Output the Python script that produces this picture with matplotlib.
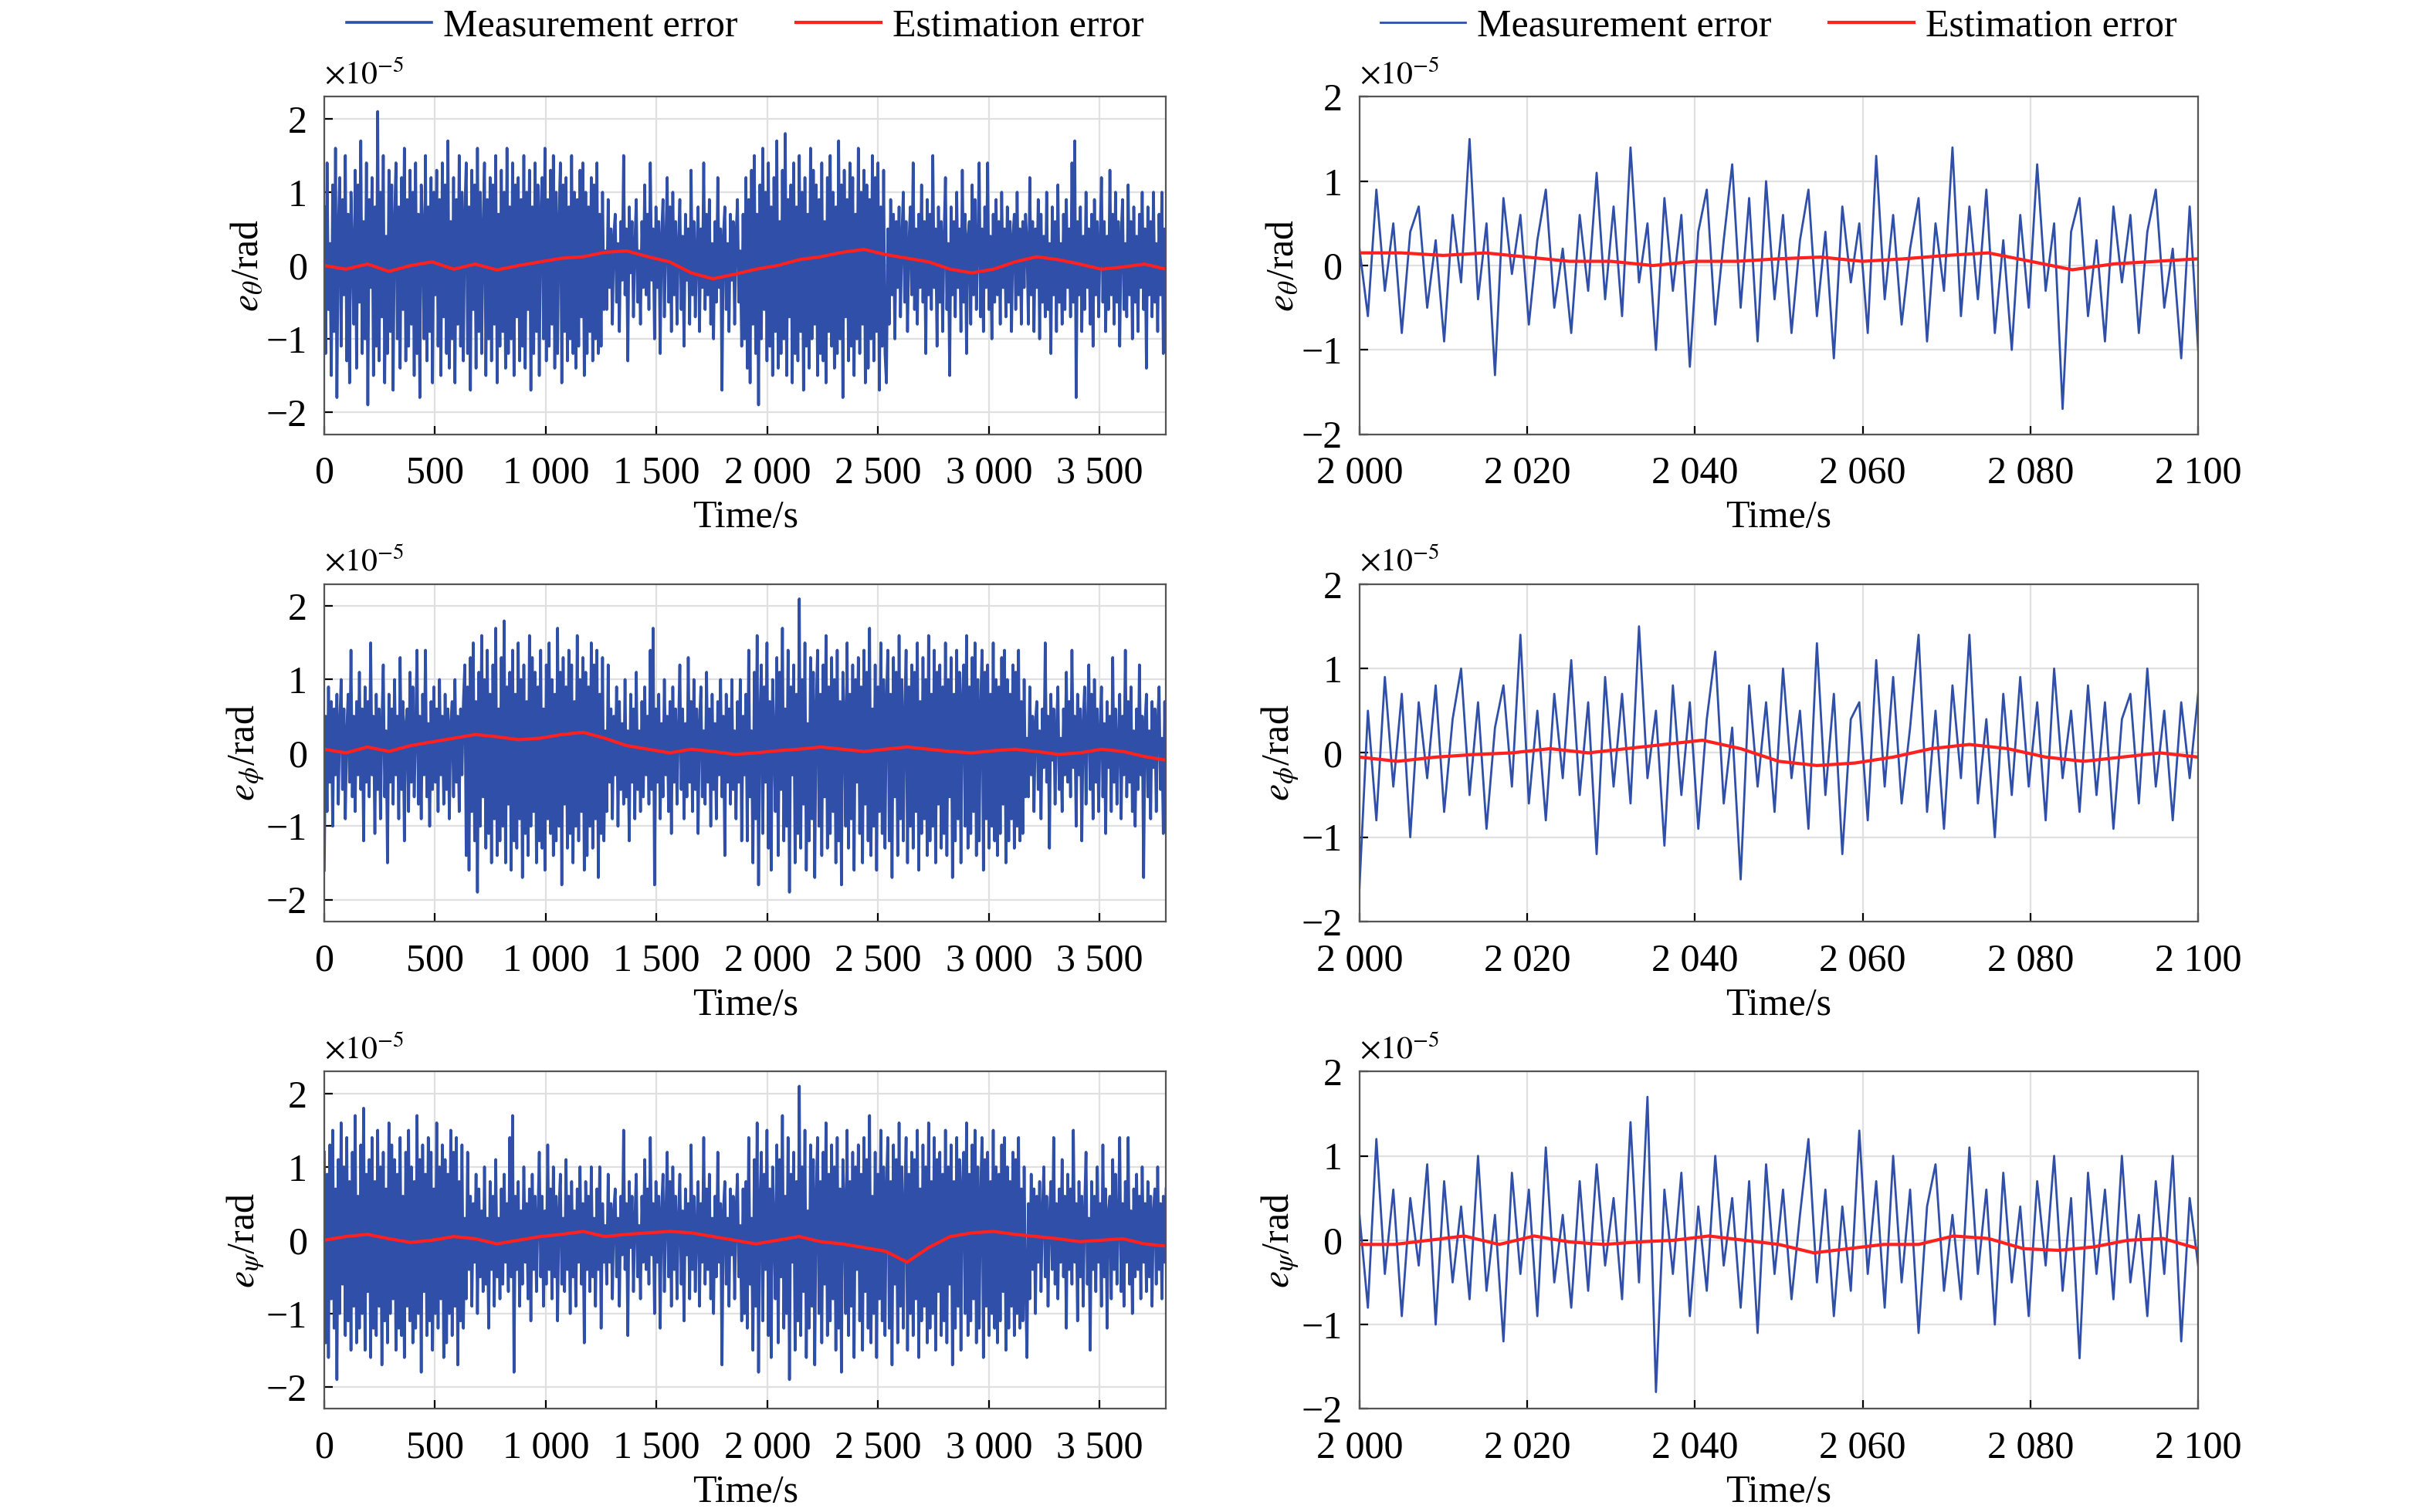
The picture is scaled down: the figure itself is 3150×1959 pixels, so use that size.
import matplotlib
matplotlib.use("Agg")
import matplotlib.pyplot as plt
import numpy as np

plt.rcParams['font.family'] = ['Liberation Serif', 'DejaVu Serif']
plt.rcParams['mathtext.fontset'] = 'stix'

# values in units of 1e-5 rad
seg_A = [0.8,-1.2,1.4,-0.6,0.3,-1.5,1.1,-0.9,1.6,-1.8,0.5,1.2,-1.1,0.9,-0.4,1.5,-1.3,0.7,-1.6,1.0,
0.2,-0.8,1.3,-1.4,1.1,-0.5,1.7,-1.2,0.6,-1.0,1.4,-1.9,0.9,-0.3,1.2,-1.5,0.8,-1.1,2.1,-1.3,
1.0,-0.7,1.5,-1.6,0.4,-1.2,1.3,-0.9,1.1,-1.7,0.6,1.4,-1.0,0.8,-1.4,1.2,-0.6,1.6,-1.3,0.9,
-1.1,1.3,-0.8,1.0,-1.5,1.4,-1.2,0.7,-1.8,1.1,0.5,-1.0,1.5,-1.3,0.8,-0.9,1.2,-1.6,1.0,-0.4,
1.3,-1.1,0.9,-1.5,1.4,-0.7,1.1,-1.2,1.7,-1.4,0.6,-1.0,1.2,-1.6,0.9,-0.8,1.5,-1.1,1.0,-1.3,
0.7,1.4,-1.2,0.8,-1.7,1.3,-0.6,1.1,-1.4,1.6,-0.9,1.0,-1.2,0.5,1.4,-1.5,0.9,-1.0,1.2,-1.3,
1.1,-0.8,1.5,-1.6,0.7,-1.1,1.3,-0.9,1.0,-1.4,1.6,-1.2,0.8,-1.0,1.4,-1.5,1.1,-0.7,1.2,-1.3,
0.9,-1.1,1.5,-1.4,1.0,-0.6,1.3,-1.7,0.8,-1.2,1.4,-0.9,1.1,-1.5,0.7,1.2,-1.0,1.6,-1.3,0.9,
-1.1,1.3,-0.8,1.5,-1.4,1.0,-1.2,0.6,1.4,-1.6,1.1,-0.9,1.2,-1.3,0.8,-1.0,1.5,-1.2,1.0,-1.4,
0.9,-1.1,1.3,-0.7,1.4,-1.5,1.0,-1.2,0.8,-0.9,1.2,-1.3,1.1,-1.0,1.4,-1.2,0.7,-1.1,1.0,-0.6]
seg_B = [1.2,-1.4,0.9,-1.6,1.3,-0.8,1.5,-1.2,0.7,-1.9,1.1,-1.0,1.6,-0.6,1.0,-1.3,1.4,-1.1,0.8,-1.5,
1.2,-0.9,1.7,-1.4,0.6,-1.2,1.3,-1.0,1.8,-1.5,0.9,-0.7,1.1,-1.6,1.4,-1.2,0.8,-1.3,1.5,-0.9,
1.0,-1.7,1.2,-1.1,0.7,-1.4,1.6,-1.0,1.3,-0.8,1.1,-1.5,0.9,-1.2,1.4,-1.3,0.6,-1.6,1.2,-0.9,
1.5,-1.1,1.0,-1.4,0.8,-1.2,1.7,-1.0,1.1,-1.8,1.3,-0.7,0.9,-1.3,1.4,-1.1,1.2,-1.5,0.7,-1.0,
1.6,-1.2,1.0,-0.8,1.3,-1.6,1.1,-1.4,0.9,-1.0,1.5,-1.3,1.2,-0.9,1.4,-1.7,0.8,-1.1,1.3,-1.2]

meas_R1 = [0.2,-0.6,0.9,-0.3,0.5,-0.8,0.4,0.7,-0.5,0.3,-0.9,0.6,-0.2,1.5,-0.4,0.5,-1.3,0.8,-0.1,0.6,
-0.7,0.3,0.9,-0.5,0.2,-0.8,0.6,-0.3,1.1,-0.4,0.7,-0.6,1.4,-0.2,0.5,-1.0,0.8,-0.3,0.6,-1.2,
0.4,0.9,-0.7,0.3,1.2,-0.5,0.8,-0.9,1.0,-0.4,0.6,-0.8,0.3,0.9,-0.6,0.4,-1.1,0.7,-0.2,0.5,
-0.8,1.3,-0.4,0.6,-0.7,0.2,0.8,-0.9,0.5,-0.3,1.4,-0.6,0.7,-0.4,0.9,-0.8,0.3,-1.0,0.6,-0.5,
1.2,-0.3,0.5,-1.7,0.4,0.8,-0.6,0.3,-0.9,0.7,-0.2,0.6,-0.8,0.4,0.9,-0.5,0.2,-1.1,0.7,-1.0]
est_R1 = [0.15,0.15,0.12,0.15,0.1,0.05,0.05,0.0,0.05,0.05,0.08,0.1,0.05,0.08,0.12,0.15,0.05,-0.05,0.02,0.05,0.08]
meas_R2 = [-1.6,0.5,-0.8,0.9,-0.4,0.7,-1.0,0.6,-0.3,0.8,-0.7,0.4,1.0,-0.5,0.6,-0.9,0.3,0.8,-0.4,1.4,
-0.6,0.5,-0.8,0.7,-0.3,1.1,-0.5,0.6,-1.2,0.9,-0.4,0.7,-0.6,1.5,-0.3,0.5,-1.1,0.8,-0.5,0.6,
-0.9,0.4,1.2,-0.6,0.3,-1.5,0.8,-0.4,0.6,-0.7,1.0,-0.3,0.5,-0.9,1.3,-0.5,0.7,-1.2,0.4,0.6,
-0.8,1.1,-0.4,0.9,-0.6,0.3,1.4,-0.7,0.5,-0.9,0.8,-0.3,1.4,-0.6,0.4,-1.0,0.7,-0.5,0.9,-0.4,
0.6,-0.8,1.0,-0.3,0.5,-0.7,0.8,-0.5,0.6,-0.9,0.4,0.7,-0.6,1.0,-0.4,0.5,-0.8,0.6,-0.3,0.7]
est_R2 = [-0.05,-0.1,-0.05,-0.02,0.0,0.05,0.0,0.05,0.1,0.15,0.05,-0.1,-0.15,-0.12,-0.05,0.05,0.1,0.05,-0.05,-0.1,-0.05,0.0,-0.05]
meas_R3 = [0.3,-0.8,1.2,-0.4,0.6,-0.9,0.5,-0.3,0.9,-1.0,0.7,-0.5,0.4,-0.7,1.0,-0.6,0.3,-1.2,0.8,-0.4,
0.6,-0.9,1.1,-0.5,0.3,-0.8,0.7,-0.6,0.9,-0.3,0.5,-0.7,1.4,-0.5,1.7,-1.8,0.6,-0.4,0.8,-0.9,
0.4,-0.6,1.0,-0.3,0.5,-0.8,0.7,-1.1,0.9,-0.4,0.6,-0.7,0.3,1.2,-0.5,0.6,-0.9,0.4,-0.6,1.3,
-0.4,0.7,-0.8,1.0,-0.5,0.6,-1.1,0.4,0.9,-0.6,0.3,-0.7,1.1,-0.4,0.6,-1.0,0.8,-0.5,0.4,-0.9,
0.7,-0.3,1.0,-0.6,0.5,-1.4,0.8,-0.4,0.6,-0.7,1.0,-0.5,0.3,-0.9,0.7,-0.4,1.0,-1.2,0.5,-0.3]
est_R3 = [-0.05,-0.05,0.0,0.05,-0.05,0.05,-0.02,-0.05,-0.02,0.0,0.05,0.0,-0.05,-0.15,-0.1,-0.05,-0.05,0.05,0.02,-0.1,-0.12,-0.08,0.0,0.02,-0.1]

meas_L1 = seg_A + meas_R1 + seg_B + meas_R2 + meas_R3
meas_L2 = meas_R2 + seg_B + meas_R3 + seg_A + meas_R1
meas_L3 = seg_B + meas_R3 + meas_R1 + seg_A + meas_R2
est_L1 = [0.0,-0.05,0.02,-0.08,0.0,0.05,-0.05,0.02,-0.06,0.0,0.05,0.1,0.12,0.18,0.2,0.12,0.05,-0.1,-0.18,-0.12,
-0.05,0.0,0.08,0.12,0.18,0.22,0.15,0.1,0.05,-0.05,-0.1,-0.05,0.05,0.12,0.08,0.02,-0.05,-0.02,0.02,-0.05]
est_L2 = [0.05,0.0,0.08,0.02,0.1,0.15,0.2,0.25,0.22,0.18,0.2,0.25,0.28,0.2,0.1,0.05,0.0,0.05,0.02,-0.02,
0.0,0.03,0.05,0.08,0.05,0.02,0.05,0.08,0.05,0.02,0.0,0.03,0.05,0.02,-0.02,0.0,0.05,0.02,-0.05,-0.1]
est_L3 = [0.0,0.05,0.08,0.02,-0.03,0.0,0.05,0.02,-0.05,0.0,0.05,0.08,0.12,0.05,0.08,0.1,0.12,0.1,0.05,0.0,
-0.05,0.0,0.05,-0.02,-0.05,-0.1,-0.15,-0.3,-0.1,0.05,0.1,0.12,0.08,0.05,0.02,-0.02,0.0,0.02,-0.05,-0.08]

ylabels = [r'$e_{\theta}$/rad', r'$e_{\phi}$/rad', r'$e_{\psi}$/rad']
left = [(meas_L1, est_L1), (meas_L2, est_L2), (meas_L3, est_L3)]
right = [(meas_R1, est_R1), (meas_R2, est_R2), (meas_R3, est_R3)]

BLUE = '#2f4fa8'; RED = '#ff2020'
def fmt(v, p):
    return f"{int(round(v)):,}".replace(",", " ")

fig = plt.figure(figsize=(15.75, 9.795), dpi=200)
W, H = 1560, 968
rows = [(62, 278), (374, 590), (686, 902)]
cols = [(208, 748), (872, 1410)]
for r, (t, b) in enumerate(rows):
    for c, (l, rr) in enumerate(cols):
        ax = fig.add_axes([l / W, 1 - b / H, (rr - l) / W, (b - t) / H])
        if c == 0:
            m, e = left[r]; x0, x1 = 0, 3800; lim = 2.3
            ax.set_xticks(range(0, 3501, 500))
        else:
            m, e = right[r]; x0, x1 = 2000, 2100; lim = 2.0
            ax.set_xticks(range(2000, 2101, 20))
        xm = np.linspace(x0, x1, len(m)); xe = np.linspace(x0, x1, len(e))
        ax.plot(xm, m, color=BLUE, lw=1.0 if c else 1.3, label='Measurement error')
        ax.plot(xe, e, color=RED, lw=1.5, label='Estimation error')
        ax.set_xlim(x0, x1); ax.set_ylim(-lim, lim)
        ax.set_yticks([-2, -1, 0, 1, 2])
        ax.xaxis.set_major_formatter(matplotlib.ticker.FuncFormatter(fmt))
        ax.grid(True, color='#e0e0e0', lw=0.8)
        ax.tick_params(labelsize=18, direction='in', length=4)
        ax.tick_params(axis='x', pad=10)
        ax.tick_params(axis='y', pad=8)
        ax.set_xlabel('Time/s', fontsize=18, labelpad=4)
        ax.set_ylabel(ylabels[r], fontsize=18, labelpad=0)
        ax.text(0.0, 1.02, r'$\times10^{-5}$', transform=ax.transAxes, fontsize=15, va='bottom')
        for s in ax.spines.values():
            s.set_color('#555555'); s.set_linewidth(0.8)
        if r == 0:
            ax.legend(loc='lower center', bbox_to_anchor=(0.5, 1.11), ncol=2, frameon=False,
                      fontsize=18, handlelength=2.2, handletextpad=0.3, columnspacing=1.5, borderaxespad=0)
fig.savefig('out.png', dpi=200)
